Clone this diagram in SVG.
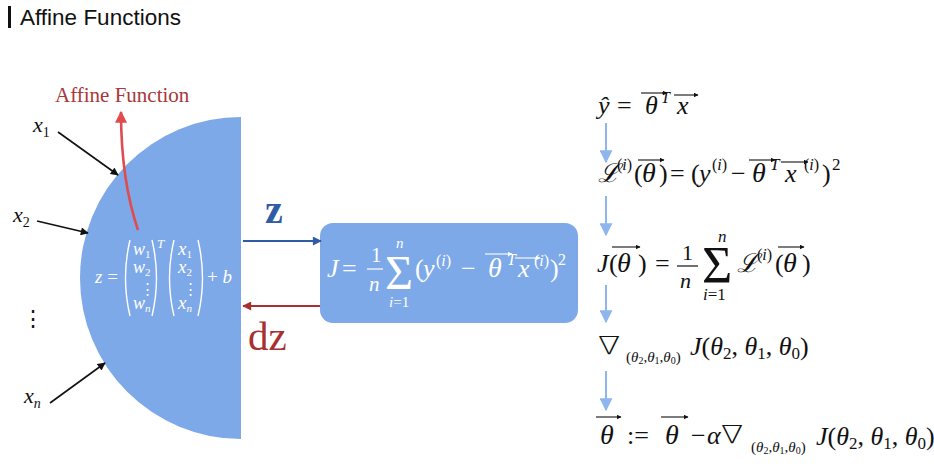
<svg xmlns="http://www.w3.org/2000/svg" width="934" height="470" viewBox="0 0 934 470">
<defs>
<style>
.m{font-family:"Liberation Serif","DejaVu Serif",serif;}
.i{font-style:italic;}
.w{fill:#ffffff;}
.k{fill:#111111;}
.nab{font-family:"DejaVu Sans","Liberation Serif",sans-serif;font-weight:200;}
.va{fill:none;stroke-width:1.1;}
.vk{stroke:#111111;}
.vw{stroke:#ffffff;}
.blob{fill:#7EA9E8;}
.inp{stroke:#111111;stroke-width:1.6;fill:none;marker-end:url(#hk);}
.step{stroke:#8DB6EF;stroke-width:2;fill:none;marker-end:url(#hs);}
</style>
<marker id="hk" viewBox="0 0 10 10" refX="9" refY="5" markerUnits="userSpaceOnUse" markerWidth="9" markerHeight="8" orient="auto"><path d="M0,0 L10,5 L0,10 Z" fill="#111111"/></marker>
<marker id="hs" viewBox="0 0 10 10" refX="9" refY="5" markerUnits="userSpaceOnUse" markerWidth="13" markerHeight="13" orient="auto"><path d="M0,0 L10,5 L0,10 Z" fill="#8DB6EF"/></marker>
<marker id="hb" viewBox="0 0 10 10" refX="9" refY="5" markerUnits="userSpaceOnUse" markerWidth="10" markerHeight="9" orient="auto"><path d="M0,0 L10,5 L0,10 Z" fill="#2F5BA7"/></marker>
<marker id="hr" viewBox="0 0 10 10" refX="9" refY="5" markerUnits="userSpaceOnUse" markerWidth="10" markerHeight="9" orient="auto"><path d="M0,0 L10,5 L0,10 Z" fill="#A8302F"/></marker>
<marker id="hl" viewBox="0 0 10 10" refX="9" refY="5" markerUnits="userSpaceOnUse" markerWidth="14" markerHeight="12" orient="auto"><path d="M0,0 L10,5 L0,10 Z" fill="#E04B50"/></marker>
<marker id="vk" viewBox="0 0 10 10" refX="9" refY="5" markerUnits="userSpaceOnUse" markerWidth="5" markerHeight="5" orient="auto"><path d="M0,0 L10,5 L0,10 Z" fill="#111111"/></marker>
<marker id="vw" viewBox="0 0 10 10" refX="9" refY="5" markerUnits="userSpaceOnUse" markerWidth="5" markerHeight="5" orient="auto"><path d="M0,0 L10,5 L0,10 Z" fill="#ffffff"/></marker>
</defs>
<rect width="934" height="470" fill="#ffffff"/>

<g id="title">
<rect x="8" y="6" width="3" height="22" fill="#111111"/>
<text x="20" y="25" font-family="'Liberation Sans',Arial,sans-serif" font-size="22.5" fill="#111111">Affine Functions</text>
</g>

<g id="neuron">
<path class="blob" d="M241,117 A161,161 0 0 0 241,439 Z"/>
<g fill="none" stroke="#ffffff" stroke-width="1.4">
<path d="M130,240 Q121,278 130,316"/>
<path d="M152,240 Q161,278 152,316"/>
<path d="M174,240 Q165,278 174,316"/>
<path d="M198,240 Q207,278 198,316"/>
</g>
<g class="m w" font-size="19">
<text x="95" y="283"><tspan class="i">z</tspan> =</text>
<text x="133" y="255" class="i" font-size="18">w<tspan font-size="11" dy="3" font-style="normal">1</tspan></text>
<text x="133" y="273" class="i" font-size="18">w<tspan font-size="11" dy="3" font-style="normal">2</tspan></text>
<text x="140" y="294" font-size="15">⋮</text>
<text x="133" y="309" class="i" font-size="18">w<tspan font-size="11" dy="3">n</tspan></text>
<text x="157" y="248" font-size="13" class="i">T</text>
<text x="178" y="255" class="i">x<tspan font-size="11" dy="3" font-style="normal">1</tspan></text>
<text x="178" y="273" class="i">x<tspan font-size="11" dy="3" font-style="normal">2</tspan></text>
<text x="183" y="294" font-size="15">⋮</text>
<text x="178" y="309" class="i">x<tspan font-size="11" dy="3">n</tspan></text>
<text x="207" y="283">+ <tspan class="i">b</tspan></text>
</g>
</g>

<g id="affine-label">
<text x="55" y="102" class="m" font-size="21" fill="#A8383A">Affine Function</text>
</g>

<g id="inputs" class="m k" font-size="22">
<text x="33" y="132" class="i">x<tspan font-size="14" dy="5" font-style="normal">1</tspan></text>
<text x="13" y="222" class="i">x<tspan font-size="14" dy="5" font-style="normal">2</tspan></text>
<text x="22" y="326" font-size="22" font-style="normal">⋮</text>
<text x="24" y="403" class="i">x<tspan font-size="14" dy="5">n</tspan></text>
</g>

<g id="cost">
<rect x="320" y="223" width="258" height="100" rx="13" class="blob"/>
<g class="m w" font-size="26">
<text x="327" y="277" class="i">J</text>
<text x="342" y="277">=</text>
<text x="371" y="262" font-size="21">1</text>
<text x="369" y="291" font-size="21" class="i">n</text>
<text x="385" y="289" font-size="48">Σ</text>
<text x="396" y="248" font-size="15" class="i">n</text>
<text x="389" y="307" font-size="15"><tspan class="i">i</tspan>=1</text>
<text x="415" y="277">(</text>
<text x="423" y="277" class="i">y</text>
<text x="436" y="266" font-size="16">(<tspan class="i">i</tspan>)</text>
<text x="461" y="277">−</text>
<text x="488" y="277" class="i" font-size="28">θ</text>
<text x="507" y="265" font-size="16" class="i">T</text>
<text x="518" y="277" class="i">x</text>
<text x="534" y="266" font-size="16">(<tspan class="i">i</tspan>)</text>
<text x="550" y="277">)</text>
<text x="558" y="265" font-size="16">2</text>
</g>
<line x1="367" y1="269" x2="383" y2="269" stroke="#ffffff" stroke-width="1.2"/>
<path class="va vw" d="M485,254 H512" marker-end="url(#vw)"/>
<path class="va vw" d="M515,258 H540" marker-end="url(#vw)"/>
</g>

<g id="steps" class="m k" font-size="26">
<g id="eq-yhat">
<text x="598" y="114" class="i">ŷ</text>
<text x="617" y="114">=</text>
<text x="645" y="114" class="i">θ</text>
<text x="661" y="103" font-size="16" class="i">T</text>
<text x="677" y="114" class="i">x</text>
<path class="va vk" d="M641,93 H667" marker-end="url(#vk)"/>
<path class="va vk" d="M674,95 H698" marker-end="url(#vk)"/>
</g>
<g id="eq-loss">
<text x="598" y="182" class="i">ℒ</text>
<text x="617" y="170" font-size="16">(<tspan class="i">i</tspan>)</text>
<text x="634" y="182">(</text>
<text x="642" y="182" class="i" font-size="28">θ</text>
<text x="659" y="182">)</text>
<text x="670" y="182">=</text>
<text x="691" y="182">(</text>
<text x="699" y="182" class="i">y</text>
<text x="712" y="170" font-size="16">(<tspan class="i">i</tspan>)</text>
<text x="731" y="182">−</text>
<text x="752" y="182" class="i" font-size="28">θ</text>
<text x="770" y="170" font-size="17" class="i">T</text>
<text x="785" y="182" class="i">x</text>
<text x="804" y="170" font-size="16">(<tspan class="i">i</tspan>)</text>
<text x="822" y="182">)</text>
<text x="832" y="170" font-size="17">2</text>
<path class="va vk" d="M638,160 H664" marker-end="url(#vk)"/>
<path class="va vk" d="M749,160 H775" marker-end="url(#vk)"/>
<path class="va vk" d="M781,162 H808" marker-end="url(#vk)"/>
</g>
<g id="eq-J">
<text x="597" y="272" class="i">J</text>
<text x="609" y="272">(</text>
<text x="617" y="272" class="i" font-size="28">θ</text>
<text x="638" y="272">)</text>
<text x="655" y="272">=</text>
<text x="682" y="260" font-size="22">1</text>
<text x="680" y="288" font-size="22" class="i">n</text>
<text x="702" y="283" font-size="52">Σ</text>
<text x="718" y="242" font-size="17" class="i">n</text>
<text x="703" y="300" font-size="17"><tspan class="i">i</tspan>=1</text>
<text x="737" y="272" class="i">ℒ</text>
<text x="757" y="260" font-size="16">(<tspan class="i">i</tspan>)</text>
<text x="775" y="272">(</text>
<text x="783" y="272" class="i" font-size="28">θ</text>
<text x="802" y="272">)</text>
<path class="va vk" d="M612,247 H640" marker-end="url(#vk)"/>
<path class="va vk" d="M778,247 H804" marker-end="url(#vk)"/>
</g>
<line x1="677" y1="266" x2="698" y2="266" stroke="#111111" stroke-width="1.2"/>
<g id="eq-grad">
<text class="nab" transform="translate(598,354) scale(1.3,1)" font-size="25">∇</text>
<text x="626" y="362" font-size="15">(<tspan class="i">θ</tspan><tspan font-size="10" dy="2">2</tspan><tspan dy="-2">,</tspan><tspan class="i">θ</tspan><tspan font-size="10" dy="2">1</tspan><tspan dy="-2">,</tspan><tspan class="i">θ</tspan><tspan font-size="10" dy="2">0</tspan><tspan dy="-2">)</tspan></text>
<text x="690" y="355"><tspan class="i">J</tspan>(<tspan class="i">θ</tspan><tspan font-size="17" dy="4">2</tspan><tspan dy="-4">, </tspan><tspan class="i">θ</tspan><tspan font-size="17" dy="4">1</tspan><tspan dy="-4">, </tspan><tspan class="i">θ</tspan><tspan font-size="17" dy="4">0</tspan><tspan dy="-4">)</tspan></text>
</g>
<g id="eq-update">
<text x="600" y="444" class="i" font-size="28">θ</text>
<text x="627" y="444">:=</text>
<text x="665" y="444" class="i" font-size="28">θ</text>
<text x="691" y="444">−</text>
<text x="707" y="444" class="i">α</text>
<text class="nab" transform="translate(721,443) scale(1.3,1)" font-size="25">∇</text>
<text x="751" y="452" font-size="15">(<tspan class="i">θ</tspan><tspan font-size="10" dy="2">2</tspan><tspan dy="-2">,</tspan><tspan class="i">θ</tspan><tspan font-size="10" dy="2">1</tspan><tspan dy="-2">,</tspan><tspan class="i">θ</tspan><tspan font-size="10" dy="2">0</tspan><tspan dy="-2">)</tspan></text>
<text x="816" y="445"><tspan class="i">J</tspan>(<tspan class="i">θ</tspan><tspan font-size="17" dy="4">2</tspan><tspan dy="-4">, </tspan><tspan class="i">θ</tspan><tspan font-size="17" dy="4">1</tspan><tspan dy="-4">, </tspan><tspan class="i">θ</tspan><tspan font-size="17" dy="4">0</tspan><tspan dy="-4">)</tspan></text>
<path class="va vk" d="M596,417 H621" marker-end="url(#vk)"/>
<path class="va vk" d="M661,417 H688" marker-end="url(#vk)"/>
</g>
</g>

<g id="connectors">
<path class="inp" d="M58,132 L118,175"/>
<path class="inp" d="M37,221 L88,233"/>
<path class="inp" d="M50,403 L105,363"/>
<path d="M138,230 Q121,180 121,112" fill="none" stroke="#E04B50" stroke-width="2.6" marker-end="url(#hl)"/>
<path d="M243,241 H321" stroke="#2F5BA7" stroke-width="2" fill="none" marker-end="url(#hb)"/>
<path d="M320,306 H243" stroke="#A8302F" stroke-width="2" fill="none" marker-end="url(#hr)"/>
<path class="step" d="M606,123 V162"/>
<path class="step" d="M606,196 V235"/>
<path class="step" d="M606,285 V322"/>
<path class="step" d="M606,371 V410"/>
<text x="265" y="223" class="m" font-size="40" font-weight="bold" fill="#2F5BA7">z</text>
<text x="248" y="350" class="m" font-size="41" fill="#A8302F">dz</text>
</g>
</svg>
